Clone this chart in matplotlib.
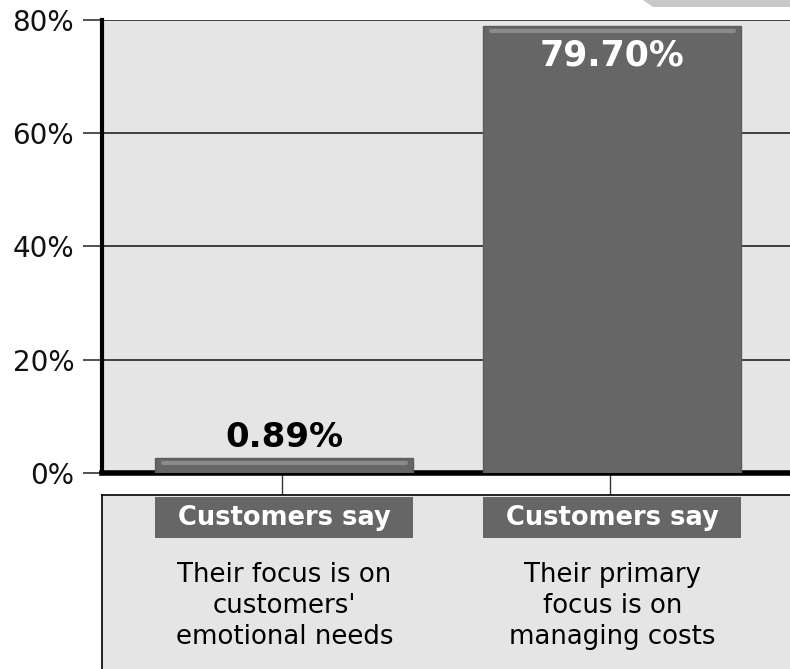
import matplotlib
matplotlib.use("Agg")
import matplotlib.pyplot as plt
from matplotlib.patches import Rectangle, Polygon
from matplotlib.transforms import offset_copy

# values
categories = ["Their focus is on\ncustomers'\nemotional needs",
              "Their primary\nfocus is on\nmanaging costs"]
header = "Customers say"
bar_heights = [2.6, 79.0]          # drawn heights
value_labels = ["0.89%", "79.70%"]
yticks = [0, 20, 40, 60, 80]

W, H = 790, 669
BG = "#e5e5e5"
BAR = "#666666"
XLIM = (-0.556, 1.542)

fig = plt.figure(figsize=(W / 100, H / 100), dpi=100)
fig.patch.set_facecolor("white")


def fx(px):
    return px / W


def fy(py):
    return 1 - py / H


# main plot, 0% at y=473, 80% at y=20
ax = fig.add_axes([fx(102), fy(473), fx(W) - fx(102), fy(20) - fy(473)])
ax.set_facecolor(BG)
x = list(range(len(categories)))
ax.set_xlim(*XLIM)
ax.set_ylim(0, 80)

ax.bar(x, bar_heights, width=0.786, color=BAR, edgecolor="#5c5c5c", lw=1, zorder=3)
# bevel highlight near the top of each bar
hl = offset_copy(ax.transData, fig=fig, y=-5, units="dots")
for xi, h in zip(x, bar_heights):
    ax.plot([xi - 0.37, xi + 0.37], [h, h], color="#8a8a8a", lw=3,
            solid_capstyle="round", transform=hl, zorder=4)

ax.text(x[0], bar_heights[0], value_labels[0], ha="center", va="bottom",
        fontsize=24.5, fontweight="bold", color="black", zorder=5,
        transform=offset_copy(ax.transData, fig=fig, y=4, units="dots"))
ax.text(x[1], bar_heights[1], value_labels[1], ha="center", va="top",
        fontsize=25, fontweight="bold", color="white", zorder=5,
        transform=offset_copy(ax.transData, fig=fig, y=-13, units="dots"))

ax.set_yticks(yticks)
ax.set_yticklabels([f"{v}%" for v in yticks], fontsize=20, color="#111111")
ax.yaxis.grid(True, color="#222222", lw=1.2, zorder=1)
ax.tick_params(axis="y", length=14, width=1.2, color="#333333", pad=6)
ax.set_xticks([xi - 0.006 for xi in x])
ax.set_xticklabels([])
ax.tick_params(axis="x", length=16, width=1, color="#333333", direction="out")
for s in ["top", "right"]:
    ax.spines[s].set_visible(False)
ax.spines["left"].set_linewidth(3)
ax.spines["bottom"].set_linewidth(4)
ax.spines["left"].set_color("black")
ax.spines["bottom"].set_color("black")

# lower category box, from y=495 to the bottom edge
lx = fig.add_axes([fx(102), 0, fx(W) - fx(102), fy(495)])
lx.set_facecolor(BG)
lx.set_xlim(*XLIM)
lx.set_ylim(174, 0)
lx.set_xticks([])
lx.set_yticks([])
for s in ["right", "bottom"]:
    lx.spines[s].set_visible(False)
lx.spines["left"].set_linewidth(1.2)
lx.spines["top"].set_linewidth(1.2)
for xi, cat in zip(x, categories):
    lx.add_patch(Rectangle((xi - 0.393, 2), 0.786, 41, color=BAR, lw=0))
    lx.text(xi, 23, header, ha="center", va="center", fontsize=18.5,
            fontweight="bold", color="white")
    lx.text(xi, 111, cat, ha="center", va="center", fontsize=18.7,
            color="black", linespacing=1.27)

# grey tab cut off at the top right corner
fig.patches.append(Polygon([(fx(643), 1), (1, 1), (1, fy(7)), (fx(653), fy(7))],
                           closed=True, transform=fig.transFigure,
                           color="#c8c8c8", lw=0))

fig.savefig("out.png", dpi=100)
